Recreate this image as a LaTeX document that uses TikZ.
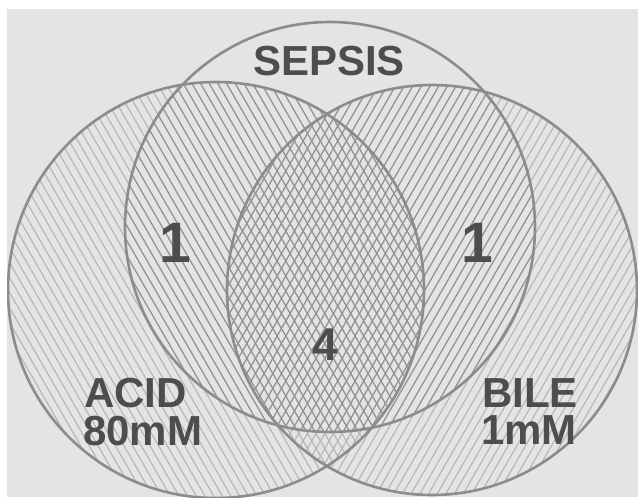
\documentclass[tikz,border=0pt]{standalone}
\usepackage{fontspec}
\setmainfont{Liberation Sans}
\usetikzlibrary{patterns.meta}
\definecolor{bg}{HTML}{E4E4E4}
\definecolor{hatchlight}{HTML}{B4B4B4}
\definecolor{hatchdark}{HTML}{929292}
\definecolor{rim}{HTML}{8C8C8C}
\definecolor{ink}{HTML}{4D4D4D}
\tikzset{
  rimline/.style={draw=rim, line width=2.6pt},
  hatchA/.style={pattern={Lines[angle=-60,distance=7.5pt,line width=1.1pt]}, pattern color=#1},
  hatchB/.style={pattern={Lines[angle=60,distance=7.5pt,line width=1.1pt]}, pattern color=#1},
  lbl/.style={inner sep=0pt, text=ink, font=\bfseries\fontsize{42}{42}\selectfont},
  num/.style={inner sep=0pt, text=ink, font=\bfseries\fontsize{57}{57}\selectfont},
}
\begin{document}
\begin{tikzpicture}[x=1pt,y=-1pt]
\useasboundingbox (0,0) rectangle (638,501);
\fill[white] (0,0) rectangle (638,501);
\fill[bg] (7,9) rectangle (638,497);
\begin{scope}
  \clip (7,9) rectangle (638,497);
  % hatching of the two lower circles
  \fill[hatchA=hatchlight] (216,290) circle[radius=208pt];
  \fill[hatchB=hatchlight] (432,290) circle[radius=205pt];
  % darker hatching inside SEPSIS
  \begin{scope}
    \clip (330,227) circle[radius=205pt];
    \fill[hatchA=hatchdark] (216,290) circle[radius=208pt];
    \fill[hatchB=hatchdark] (432,290) circle[radius=205pt];
  \end{scope}
  % outlines
  \draw[rimline] (330,227) circle[radius=205pt];
  \draw[rimline] (216,290) circle[radius=208pt];
  \draw[rimline] (432,290) circle[radius=205pt];
\end{scope}
% labels
\node[lbl, anchor=base] (sepsis) at (329,75) {SEPSIS};
\node[num, anchor=base] (oneL) at (175,262) {1};
\node[num, anchor=base] (oneR) at (477,262) {1};
\node[lbl, font=\bfseries\fontsize{46}{46}\selectfont, anchor=base] (four) at (325,360) {4};
\node[lbl, anchor=base west] (acid) at (84,407) {ACID};
\node[lbl, anchor=base west] (acidc) at (83,445) {80mM};
\node[lbl, anchor=base west] (bile) at (482,407) {BILE};
\node[lbl, anchor=base west] (bilec) at (481,444) {1mM};
\end{tikzpicture}
\end{document}
